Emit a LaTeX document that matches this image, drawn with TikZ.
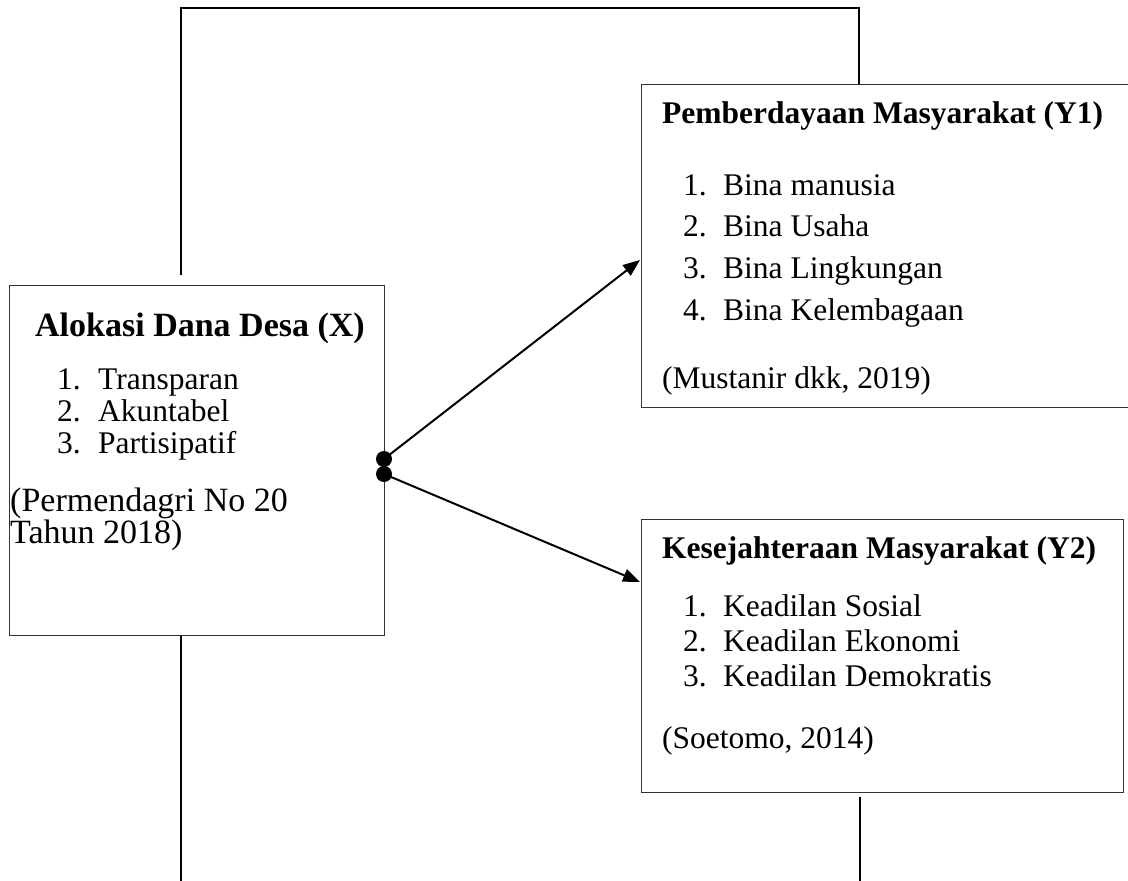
\documentclass[tikz,border=0pt]{standalone}
\usepackage{fontspec}
\setmainfont{Liberation Serif}
\usetikzlibrary{arrows.meta}
\begin{document}
\begin{tikzpicture}[x=1pt,y=-1pt,
  box/.style={draw=black!80, line width=1.4pt, anchor=north west, inner sep=0pt},
  txt/.style={anchor=base west, inner sep=0pt, font=\fontsize{31.5}{36}\selectfont},
  bigtxt/.style={anchor=base west, inner sep=0pt, font=\fontsize{34}{38}\selectfont},
  hd/.style={txt, font=\fontsize{31.5}{36}\selectfont\bfseries},
  bighd/.style={txt, font=\fontsize{34}{38}\selectfont\bfseries},
  conn/.style={draw=black, line width=2pt},
  dot/.style={circle, fill=black, inner sep=0pt, minimum size=16pt},
  arr/.style={conn, -{Triangle[length=17pt,width=13pt]}}]
\useasboundingbox (0,0) rectangle (1128,881);
\fill[white] (0,0) rectangle (1128,881);
% boxes
\node[box, minimum width=375pt, minimum height=350pt] (X) at (9,285) {};
\node[box, minimum width=500pt, minimum height=323pt] (Y1) at (641,84) {};
\node[box, minimum width=482pt, minimum height=273pt] (Y2) at (641,519) {};
% texts X
\node[bighd] (xh) at (35,336) {Alokasi Dana Desa (X)};
\node[txt] (xn1) at (57,389) {1.};
\node[txt] (xt1) at (98,389) {Transparan};
\node[txt] (xn2) at (57,421) {2.};
\node[txt] (xt2) at (98,421) {Akuntabel};
\node[txt] (xn3) at (57,453) {3.};
\node[txt] (xt3) at (98,453) {Partisipatif};
\node[bigtxt] (xs1) at (10,511) {(Permendagri No 20};
\node[bigtxt] (xs2) at (10,543) {Tahun 2018)};
% texts Y1
\node[hd] (ah) at (662,123) {Pemberdayaan Masyarakat (Y1)};
\node[txt] (an1) at (683,195) {1.};
\node[txt] (at1) at (723,195) {Bina manusia};
\node[txt] (an2) at (683,236) {2.};
\node[txt] (at2) at (723,236) {Bina Usaha};
\node[txt] (an3) at (683,278) {3.};
\node[txt] (at3) at (723,278) {Bina Lingkungan};
\node[txt] (an4) at (683,320) {4.};
\node[txt] (at4) at (723,320) {Bina Kelembagaan};
\node[txt] (as) at (662,388) {(Mustanir dkk, 2019)};
% texts Y2
\node[hd] (bh) at (662,558) {Kesejahteraan Masyarakat (Y2)};
\node[txt] (bn1) at (683,616) {1.};
\node[txt] (bt1) at (723,616) {Keadilan Sosial};
\node[txt] (bn2) at (683,651) {2.};
\node[txt] (bt2) at (723,651) {Keadilan Ekonomi};
\node[txt] (bn3) at (683,686) {3.};
\node[txt] (bt3) at (723,686) {Keadilan Demokratis};
\node[txt] (bs) at (662,748) {(Soetomo, 2014)};
% dots
\node[dot] (d1) at (384,459) {};
\node[dot] (d2) at (384,474) {};
% arrows
\coordinate (t1) at (640,260);
\coordinate (t2) at (640,582);
\draw[arr] (d1.center) -- (t1);
\draw[arr] (d2.center) -- (t2);
% feedback lines
\coordinate (l0) at (181,275);
\coordinate (l1) at (181,8);
\coordinate (l2) at (859,8);
\draw[conn] (l0) -- (l1) -- (l2) -- (l2 |- Y1.north);
\coordinate (b0) at (181,881);
\draw[conn] (X.south -| b0) -- (b0);
\coordinate (r0) at (860,797);
\coordinate (r1) at (860,881);
\draw[conn] (r0) -- (r1);
\end{tikzpicture}
\end{document}
